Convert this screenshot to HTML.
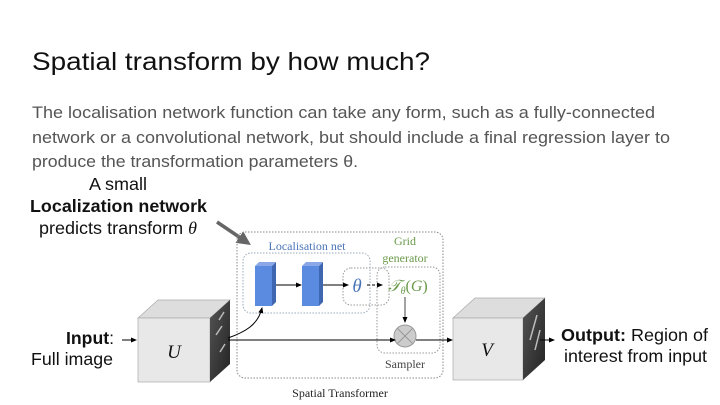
<!DOCTYPE html>
<html><head><meta charset="utf-8"><style>
html,body{margin:0;padding:0;background:#fff;}
svg{display:block;font-family:"Liberation Sans",sans-serif;}
</style></head><body>
<svg width="720" height="405" viewBox="0 0 720 405" xmlns="http://www.w3.org/2000/svg">
<defs>
<marker id="ah" markerWidth="6" markerHeight="6" refX="5" refY="3" orient="auto"><path d="M0,0.5 L6,3 L0,5.5 Z" fill="#000"/></marker>
<marker id="ahg" markerWidth="4" markerHeight="4" refX="3" refY="2" orient="auto"><path d="M0,0 L4,2 L0,4 Z" fill="#666"/></marker>
<linearGradient id="side" x1="0" y1="0" x2="1" y2="1"><stop offset="0" stop-color="#555"/><stop offset="1" stop-color="#222"/></linearGradient>
</defs>
<text x="32" y="70" font-size="25" fill="#111" textLength="398" lengthAdjust="spacingAndGlyphs">Spatial transform by how much?</text>
<g font-size="17" fill="#555">
<text x="32" y="118" textLength="623" lengthAdjust="spacingAndGlyphs">The localisation network function can take any form, such as a fully-connected</text>
<text x="32" y="143" textLength="638" lengthAdjust="spacingAndGlyphs">network or a convolutional network, but should include a final regression layer to</text>
<text x="32" y="167" textLength="326" lengthAdjust="spacingAndGlyphs">produce the transformation parameters θ.</text>
</g>
<g font-size="17.5" fill="#111">
<text x="89" y="190" textLength="58" lengthAdjust="spacingAndGlyphs">A small</text>
<text x="30" y="212" font-weight="bold" textLength="177" lengthAdjust="spacingAndGlyphs">Localization network</text>
<text x="39" y="234" textLength="158" lengthAdjust="spacingAndGlyphs">predicts transform <tspan font-family="Liberation Serif" font-style="italic">θ</tspan></text>
</g>
<line x1="217" y1="222" x2="248" y2="243" stroke="#666" stroke-width="3.5" marker-end="url(#ahg)"/>
<rect x="237" y="232" width="206" height="146" rx="8" fill="none" stroke="#888" stroke-width="1" stroke-dasharray="1.5,1.5"/>
<rect x="243" y="253" width="127" height="60" rx="8" fill="none" stroke="#9ab" stroke-width="1" stroke-dasharray="1.5,1.5"/>
<rect x="343" y="268" width="46" height="37" rx="8" fill="none" stroke="#999" stroke-width="1" stroke-dasharray="1.5,1.5"/>
<rect x="377" y="267" width="63" height="86" rx="8" fill="none" stroke="#999" stroke-width="1" stroke-dasharray="1.5,1.5"/>
<text x="307" y="250" font-family="Liberation Serif" font-size="12" fill="#4a74b8" text-anchor="middle">Localisation net</text>
<text x="405" y="245" font-family="Liberation Serif" font-size="12" fill="#6a9a4a" text-anchor="middle">Grid</text>
<text x="405" y="262" font-family="Liberation Serif" font-size="12" fill="#6a9a4a" text-anchor="middle">generator</text>
<polygon points="255,266 259,262 276,262 272,266" fill="#8aa8e8"/>
<rect x="255" y="266" width="17" height="40" fill="#5b8be0"/>
<polygon points="272,266 276,262 276,302 272,306" fill="#3f66b0"/>
<polygon points="302,266 306,262 323,262 319,266" fill="#8aa8e8"/>
<rect x="302" y="266" width="17" height="40" fill="#5b8be0"/>
<polygon points="319,266 323,262 323,302 319,306" fill="#3f66b0"/>
<line x1="276" y1="285" x2="301" y2="285" stroke="#000" marker-end="url(#ah)"/>
<line x1="323" y1="285" x2="348" y2="285" stroke="#000" marker-end="url(#ah)"/>
<text x="357" y="292" font-family="Liberation Serif" font-style="italic" font-size="19" fill="#4a74b8" text-anchor="middle">θ</text>
<line x1="367" y1="285" x2="382" y2="285" stroke="#000" stroke-dasharray="3,2" marker-end="url(#ah)"/>
<text x="408" y="291" font-family="Liberation Serif" font-style="italic" font-size="16" fill="#6a9a4a" text-anchor="middle">𝒯<tspan font-size="10" dy="3">θ</tspan><tspan dy="-3" font-style="normal">(</tspan>G<tspan font-style="normal">)</tspan></text>
<line x1="405" y1="297" x2="405" y2="322" stroke="#444" marker-end="url(#ah)"/>
<circle cx="405" cy="336" r="11" fill="#ccc" stroke="#999"/>
<line x1="397" y1="328" x2="413" y2="344" stroke="#999"/><line x1="413" y1="328" x2="397" y2="344" stroke="#999"/>
<text x="405" y="368" font-family="Liberation Serif" font-size="12" fill="#444" text-anchor="middle">Sampler</text>
<text x="340" y="397" font-family="Liberation Serif" font-size="12" fill="#222" text-anchor="middle">Spatial Transformer</text>
<polygon points="138,318 158,300 230,300 210,318" fill="#ddd" stroke="#aaa" stroke-width="0.7"/>
<rect x="138" y="318" width="72" height="64" fill="#e8e8e8" stroke="#aaa" stroke-width="0.7"/>
<polygon points="210,318 230,300 230,364 210,382" fill="url(#side)"/>
<path d="M219,320 L224,312 M216,335 L222,326 M220,352 L225,344" stroke="#bbb" stroke-width="1.5"/>
<text x="174" y="358" font-family="Liberation Serif" font-style="italic" font-size="19" fill="#111" text-anchor="middle">U</text>
<polygon points="453,318 475,298 545,298 523,318" fill="#ddd" stroke="#aaa" stroke-width="0.7"/>
<rect x="453" y="318" width="70" height="62" fill="#e8e8e8" stroke="#aaa" stroke-width="0.7"/>
<polygon points="523,318 545,298 545,360 523,380" fill="url(#side)"/>
<path d="M530,340 L537,315 M535,350 L540,330" stroke="#bbb" stroke-width="1.5"/>
<text x="487" y="356" font-family="Liberation Serif" font-style="italic" font-size="19" fill="#111" text-anchor="middle">V</text>
<line x1="228" y1="340" x2="395" y2="340" stroke="#000" marker-end="url(#ah)"/>
<line x1="416" y1="340" x2="452" y2="340" stroke="#000" marker-end="url(#ah)"/>
<path d="M228,338 C245,332 258,325 262,308" fill="none" stroke="#000" marker-end="url(#ah)"/>
<line x1="122" y1="340" x2="136" y2="340" stroke="#000" marker-end="url(#ah)"/>
<line x1="540" y1="340" x2="554" y2="340" stroke="#000" marker-end="url(#ah)"/>
<g font-size="17.5" fill="#111">
<text x="66" y="344" textLength="48" lengthAdjust="spacingAndGlyphs"><tspan font-weight="bold">Input</tspan>:</text>
<text x="31" y="365" textLength="82" lengthAdjust="spacingAndGlyphs">Full image</text>
<text x="561" y="341" textLength="147" lengthAdjust="spacingAndGlyphs"><tspan font-weight="bold">Output:</tspan> Region of</text>
<text x="564" y="362" textLength="143" lengthAdjust="spacingAndGlyphs">interest from input</text>
</g>
</svg>
</body></html>
